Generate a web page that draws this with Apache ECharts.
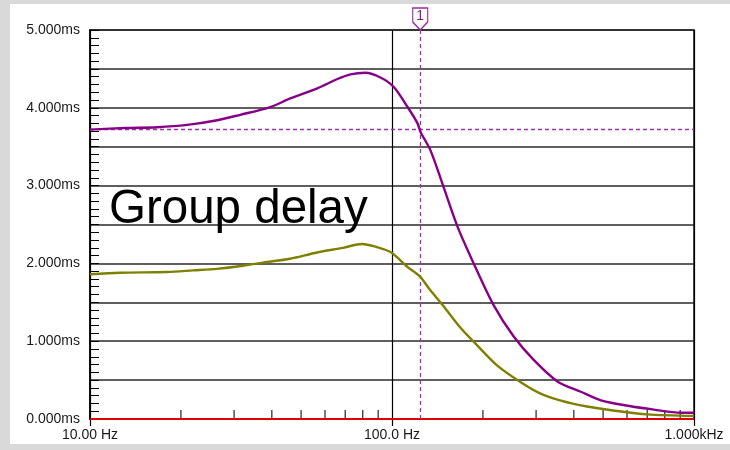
<!DOCTYPE html>
<html>
<head>
<meta charset="utf-8">
<script src="https://cdn.jsdelivr.net/npm/echarts@6/dist/echarts.min.js"></script>
<style>
html,body{margin:0;padding:0;background:#d9d9d9;}
#c{width:730px;height:450px;}
</style>
</head>
<body>
<div id="c"></div>
<script>
// Frequencies (Hz) and group delay (ms)
var purpleFreq = [10,13.06,16.68,20.97,26.38,31.44,39.54,46.06,56.60,65.96,72.86,81.68,91.59,101.2,112.6,121.5,124.3,134.2,148.2,164.9,186.4,217.2,252.9,294.6,353.9,421.9,491.5,604,736.9,905.6,1000];
var purpleVals = [3.72,3.74,3.75,3.78,3.84,3.91,4.01,4.12,4.25,4.37,4.43,4.45,4.39,4.27,4.01,3.80,3.69,3.45,2.98,2.47,2.00,1.46,1.06,0.76,0.48,0.35,0.24,0.17,0.12,0.08,0.08];
var oliveFreq = [10,12.57,17.99,21.93,26.33,32.12,37.40,45.95,56.45,68.83,79.56,89.20,98.49,103.9,112.1,123.8,133.6,147.5,168.0,191.1,222.7,265.3,309.2,359.9,442.3,539.3,698.8,1000];
var oliveVals = [1.86,1.88,1.89,1.91,1.93,1.97,2.01,2.06,2.14,2.20,2.25,2.21,2.15,2.08,1.96,1.83,1.66,1.46,1.18,0.95,0.69,0.48,0.33,0.24,0.16,0.11,0.06,0.04];
var zeroFreq = [10,1000];
var zeroVals = [0,0];
var minorFreqTicks = [20,30,40,50,60,70,80,90,200,300,400,500,600,700,800,900];
var xTickLabels = {10:'10.00 Hz',100:'100.0 Hz',1000:'1.000kHz'};
var yLabelValues = [0,1,2,3,4,5];
var markerFreq = 124;
var markerDelay = 3.73;
var markerName = '1';
var titleText = 'Group delay';

function pairs(xs, ys){ return xs.map(function(x,i){ return [x, ys[i]]; }); }

var chart = echarts.init(document.getElementById('c'), null, {renderer:'canvas'});
var FONT = 'Liberation Sans, Arial, sans-serif';
var option = {
  animation:false,
  backgroundColor:'#d9d9d9',
  graphic:[
    {type:'rect', z:-10, shape:{x:10,y:4,width:720,height:440}, style:{fill:'#ffffff'}},
    {type:'text', z:100, left:109, top:186, style:{text:titleText, font:'47.5px '+FONT, fill:'#000'}}
  ],
  grid:{left:90, right:36, top:30, bottom:31, show:true, borderColor:'#111', borderWidth:1.5, backgroundColor:'transparent'},
  xAxis:{
    type:'log', logBase:10, min:10, max:1000,
    axisLine:{show:true, lineStyle:{color:'#000', width:1.5}},
    axisTick:{show:true, inside:false, length:7, lineStyle:{color:'#000', width:1.2}},
    axisLabel:{color:'#1a1a1a', fontSize:14, fontFamily:FONT, margin:9,
      formatter:function(v){ return xTickLabels[Math.round(v)] || ''; }},
    splitLine:{show:true, lineStyle:{color:'#000', width:1.2}},
    minorTick:{show:false}
  },
  yAxis:{
    type:'value', min:0, max:5, interval:0.5,
    axisLine:{show:true, lineStyle:{color:'#000', width:1.5}},
    axisTick:{show:true, inside:true, length:9, lineStyle:{color:'#000'}},
    minorTick:{show:true, splitNumber:5, length:9, lineStyle:{color:'#000', width:1}},
    axisLabel:{color:'#1a1a1a', fontSize:14, fontFamily:FONT, margin:10,
      formatter:function(v){ return yLabelValues.indexOf(Math.round(v*1000)/1000) >= 0 ? v.toFixed(3)+'ms' : ''; }},
    splitLine:{show:true, lineStyle:{color:'#2a2a2a', width:1.5}}
  },
  series:[
    {type:'scatter', data:minorFreqTicks.map(function(f){return [f,0];}), symbol:'rect', symbolSize:[1.3,9], symbolOffset:[0,-4.5],
      itemStyle:{color:'#000'}, silent:true, z:1},
    {type:'line', data:pairs(zeroFreq, zeroVals), showSymbol:false, lineStyle:{color:'#e00000', width:2}, z:4},
    {type:'line', data:pairs(oliveFreq, oliveVals), showSymbol:false, smooth:0.3, lineStyle:{color:'#808000', width:2.4}, z:5},
    {type:'line', data:pairs(purpleFreq, purpleVals), showSymbol:false, smooth:0.3, lineStyle:{color:'#880088', width:2.4}, z:6,
      markLine:{silent:true, symbol:'none', label:{show:false},
        lineStyle:{color:'#a030a8', type:[4,3], width:1.3},
        data:[{xAxis:markerFreq},{yAxis:markerDelay}]},
      markPoint:{silent:true,
        data:[{coord:[markerFreq,5], symbol:'path://M0,0 L15,0 L15,14 L7.5,22 L0,14 Z', symbolSize:[15,22], symbolOffset:[0,'-50%'],
          itemStyle:{color:'#ffffff', borderColor:'#9a2aa0', borderWidth:1.3},
          label:{show:true, formatter:markerName, position:'inside', offset:[0,-3], color:'#8a1a90', fontSize:14, fontFamily:FONT}}]}
    }
  ]
};
chart.setOption(option);
</script>
</body>
</html>
